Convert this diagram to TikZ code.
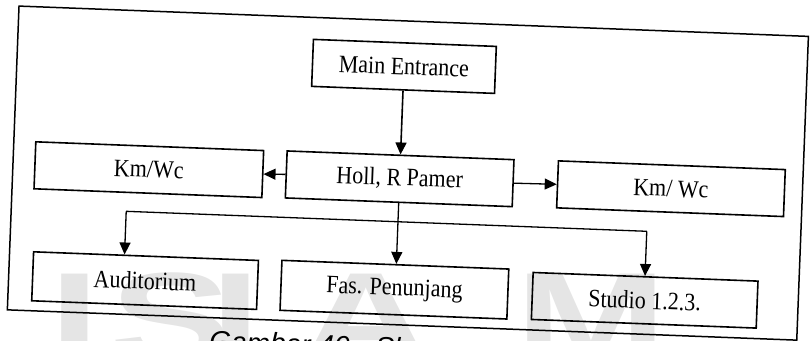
\documentclass[tikz,border=0pt]{standalone}
\usepackage{fontspec}
\setmainfont{Liberation Serif}[FakeStretch=0.88]
\newfontfamily\capfont{Liberation Sans}
\newfontfamily\wmfont{Liberation Sans}
\usetikzlibrary{arrows.meta}
\tikzset{
  box/.style={draw, line width=1.6pt, minimum width=#1, minimum height=47pt, inner sep=0pt,
    font=\fontsize{25}{25}\selectfont},
  conn/.style={line width=1.3pt},
  arr/.style={conn, -{Triangle[length=12pt,width=11pt]}},
  wm/.style={anchor=base west, inner sep=0pt, text=black!10,
    font=\wmfont\bfseries\fontsize{130}{130}\selectfont},
}
\begin{document}
\begin{tikzpicture}[x=1pt,y=-1pt]
\useasboundingbox (0,0) rectangle (811,340);
\clip (0,0) rectangle (811,340);
% faint watermark
\node[wm] (w1) at (49,363) {\scalebox{1.4}[1]{I}};
\node[wm] (w2) at (110,363) {\scalebox{1.4}[1]{S}};
\node[wm] (w3) at (210,363) {\scalebox{1.4}[1]{L}};
\node[wm] (w4) at (300,363) {\scalebox{1.4}[1]{A}};
\node[wm] (w5) at (515,363) {\scalebox{1.4}[1]{M}};
\begin{scope}[rotate around={-2.2:(405,170)}, transform shape]
  \draw[line width=1.5pt] (13,21) rectangle (803,325);
  \node[box=183pt] (main) at (400,66.5) {Main Entrance};
  \node[box=227pt] (holl) at (400,179) {Holl, R Pamer};
  \node[box=228pt] (kml) at (149,179.5) {Km/Wc};
  \node[box=227pt] (kmr) at (671.5,178.5) {Km/ Wc};
  \node[box=225pt, minimum height=49pt] (aud) at (149.5,290.5) {Auditorium};
  \node[box=227pt, minimum height=50pt] (fas) at (399,290) {Fas. Penunjang};
  \node[box=225pt, minimum height=47pt] (stu) at (649.5,291) {Studio 1.2.3.};
  \draw[arr, line width=1.6pt] (main.south) -- (holl.north);
  \draw[arr] (holl.west) -- (kml.east);
  \draw[arr] (holl.east) -- (kmr.west);
  \draw[arr] (holl.south) -- (holl.south |- fas.north);
  \coordinate (bl) at (128,222);
  \coordinate (br) at (649,222);
  \draw[conn] (bl) -- (br);
  \draw[arr] (bl) -- (bl |- aud.north);
  \draw[arr] (br) -- (br |- stu.north);
  \node[anchor=base west, inner sep=0pt, font=\capfont\itshape\fontsize{28}{28}\selectfont]
    (cap) at (216,358) {Gambar 40 : Skema};
\end{scope}
\end{tikzpicture}
\end{document}
